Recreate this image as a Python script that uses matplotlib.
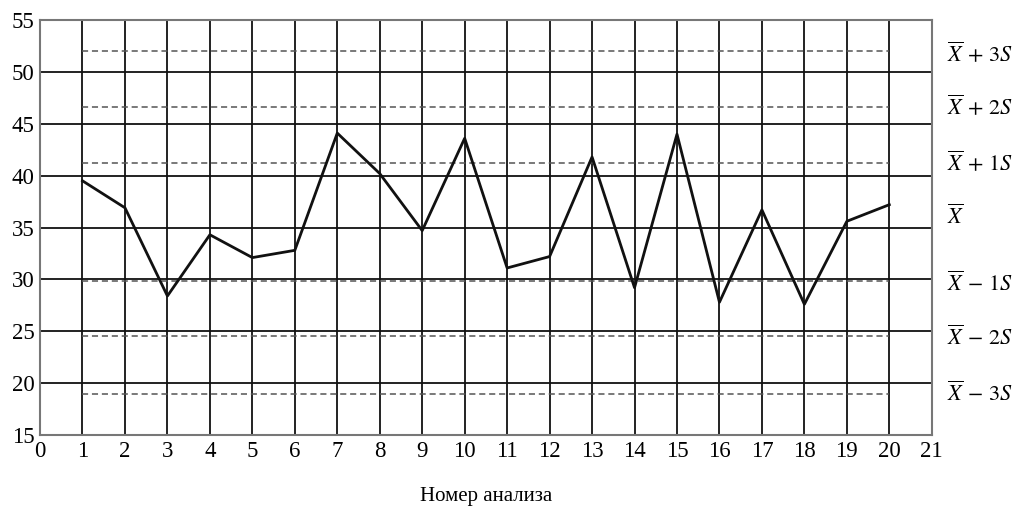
import numpy as np
import matplotlib.pyplot as plt

plt.rcParams['font.family'] = ['Liberation Serif', 'DejaVu Serif']
plt.rcParams['mathtext.fontset'] = 'stix'

# data
analysis_no = list(range(1, 21))
values = [39.5, 36.9, 28.4, 34.3, 32.1, 32.8, 44.1, 40.2, 34.7, 43.6,
          31.1, 32.2, 41.8, 29.2, 44.0, 27.8, 36.7, 27.6, 35.6, 37.2]

# control levels
levels = [52.0, 46.6, 41.2, 29.8, 24.5, 19.0]
label_pos = [51.7, 46.6, 41.2, 36.0, 29.6, 24.4, 19.0]
label_txt = [r'$\overline{X}\,+\,3S$', r'$\overline{X}\,+\,2S$', r'$\overline{X}\,+\,1S$',
             r'$\overline{X}$',
             r'$\overline{X}\,-\,1S$', r'$\overline{X}\,-\,2S$', r'$\overline{X}\,-\,3S$']

fig = plt.figure(figsize=(10.16, 5.08), dpi=100)
ax = fig.add_axes([0.0394, 0.1437, 0.8777, 0.8169])

ax.set_xlim(0, 21)
ax.set_ylim(15, 55)
ax.set_xticks(range(0, 22))
ax.set_yticks(range(15, 56, 5))
ax.grid(True, color='#111111', linewidth=1.3)
ax.set_axisbelow(True)
ax.tick_params(length=0, labelsize=16.5, pad=4)
for sp in ax.spines.values():
    sp.set_color('#777777')
    sp.set_linewidth(1.5)

for lv in levels:
    ax.plot([1, 20], [lv, lv], color='#555555', linewidth=1.1, linestyle=(0, (4, 2.5)))

ax.plot(analysis_no, values, color='#111111', linewidth=2.0)

for y, t in zip(label_pos, label_txt):
    ax.text(21.35, y, t, fontsize=16, va='center', ha='left', clip_on=False)

ax.set_xlabel('Номер анализа', fontsize=15, labelpad=18)

fig.savefig('out.png', dpi=100)
